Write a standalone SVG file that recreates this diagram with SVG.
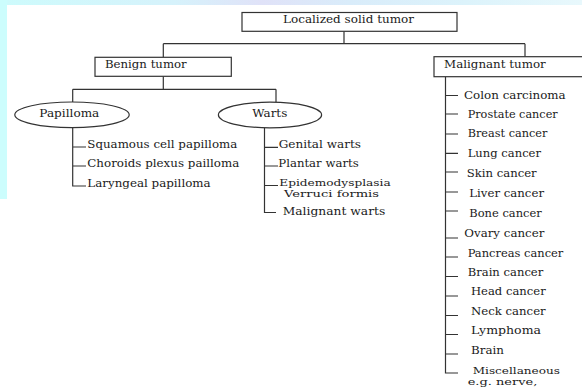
<svg xmlns="http://www.w3.org/2000/svg" width="582" height="387" viewBox="0 0 582 387">
  <defs>
    <linearGradient id="topg" x1="0" y1="0" x2="1" y2="0">
      <stop offset="0" stop-color="#cdfbfc"/>
      <stop offset="0.3" stop-color="#d6f2fb"/>
      <stop offset="0.45" stop-color="#e0e2f8"/>
      <stop offset="0.6" stop-color="#d9ecfa"/>
      <stop offset="0.8" stop-color="#dcf3fb"/>
      <stop offset="1" stop-color="#e8f8fc"/>
    </linearGradient>
    <style>
      .box { fill: #ffffff; stroke: #333333; stroke-width: 1.2; }
      .ell { fill: #ffffff; stroke: #333333; stroke-width: 1.2; }
      .ln { fill: none; stroke: #333333; stroke-width: 1.2; }
      .t { font-family: "DejaVu Serif", "Liberation Serif", serif; font-size: 10.5px; fill: #1a1a1a; }
      .s { font-size: 9.6px; }
    </style>
  </defs>

  <rect x="0" y="0" width="582" height="387" fill="#ffffff"/>
  <rect x="0" y="0" width="582" height="5" fill="url(#topg)"/>
  <rect x="0" y="0" width="7" height="199" fill="#ccfdfd"/>

  <g id="connectors">
    <path class="ln" d="M344 31.3 V43.7 M163.3 43.7 H525 M163.3 43.7 V57.3 M525 43.7 V56.7"/>
    <path class="ln" d="M163.3 76.3 V89.3 M72.7 89.3 H276 M72.7 89.3 V102 M276 89.3 V102.3"/>
    <path class="ln" d="M72.7 127.6 V186 H86 M72.7 147 H86 M72.7 166 H86"/>
    <path class="ln" d="M264.5 127.6 V212.5 H276 M264.5 147.3 H278 M264.5 166 H278 M264.5 185.5 H278"/>
    <path class="ln" d="M445.5 76.7 V373 H458 M445.5 95.5 H458 M445.5 114 H458 M445.5 134 H458 M445.5 153.3 H458 M445.5 172 H458 M445.5 192 H458 M445.5 211 H458 M445.5 238 H458 M445.5 257 H458 M445.5 276.5 H458 M445.5 296 H458 M445.5 315.5 H458 M445.5 334.5 H458 M445.5 354 H458"/>
  </g>

  <g id="localized">
    <rect class="box" x="242" y="12.5" width="215" height="18.8"/>
    <text class="t" x="283" y="23" textLength="131" lengthAdjust="spacingAndGlyphs">Localized solid tumor</text>
  </g>

  <g id="benign">
    <rect class="box" x="95" y="57.3" width="136.3" height="19"/>
    <text class="t" x="105" y="68.3" textLength="81.7" lengthAdjust="spacingAndGlyphs">Benign tumor</text>
  </g>

  <g id="malignant">
    <rect class="box" x="434" y="56.7" width="160" height="20"/>
    <text class="t" x="444" y="68.3" textLength="101.7" lengthAdjust="spacingAndGlyphs">Malignant tumor</text>
  </g>

  <g id="papilloma">
    <ellipse class="ell" cx="72" cy="114.8" rx="57.2" ry="12.8"/>
    <text class="t" x="39.3" y="116.7" textLength="60" lengthAdjust="spacingAndGlyphs">Papilloma</text>
  </g>

  <g id="warts">
    <ellipse class="ell" cx="270" cy="115" rx="51.6" ry="12.8"/>
    <text class="t" x="252.3" y="116.7" textLength="35" lengthAdjust="spacingAndGlyphs">Warts</text>
  </g>

  <g id="papilloma-items">
    <g id="squamous"><text class="t" x="87.3" y="147.7" textLength="150" lengthAdjust="spacingAndGlyphs">Squamous cell papilloma</text></g>
    <g id="choroids"><text class="t" x="87.3" y="167" textLength="152" lengthAdjust="spacingAndGlyphs">Choroids plexus pailloma</text></g>
    <g id="laryngeal"><text class="t" x="87.3" y="187" textLength="123.4" lengthAdjust="spacingAndGlyphs">Laryngeal papilloma</text></g>
  </g>

  <g id="warts-items">
    <g id="genital"><text class="t" x="278.7" y="148" textLength="82.3" lengthAdjust="spacingAndGlyphs">Genital warts</text></g>
    <g id="plantar"><text class="t" x="278.3" y="167" textLength="80.4" lengthAdjust="spacingAndGlyphs">Plantar warts</text></g>
    <g id="epidemo">
      <text class="t s" x="279.3" y="185.7" textLength="111.4" lengthAdjust="spacingAndGlyphs">Epidemodysplasia</text>
      <text class="t s" x="284" y="197.3" textLength="95" lengthAdjust="spacingAndGlyphs">Verruci formis</text>
    </g>
    <g id="malignant-warts"><text class="t" x="282.7" y="215" textLength="102.6" lengthAdjust="spacingAndGlyphs">Malignant warts</text></g>
  </g>

  <g id="malignant-items">
    <g id="colon"><text class="t" x="464" y="99.3" textLength="101.7" lengthAdjust="spacingAndGlyphs">Colon carcinoma</text></g>
    <g id="prostate"><text class="t" x="467.7" y="117.5" textLength="90" lengthAdjust="spacingAndGlyphs">Prostate cancer</text></g>
    <g id="breast"><text class="t" x="467.7" y="137.3" textLength="79.6" lengthAdjust="spacingAndGlyphs">Breast cancer</text></g>
    <g id="lung"><text class="t" x="467.7" y="156.7" textLength="73.3" lengthAdjust="spacingAndGlyphs">Lung cancer</text></g>
    <g id="skin"><text class="t" x="466.7" y="176.5" textLength="70" lengthAdjust="spacingAndGlyphs">Skin cancer</text></g>
    <g id="liver"><text class="t" x="469.3" y="196.5" textLength="74.7" lengthAdjust="spacingAndGlyphs">Liver cancer</text></g>
    <g id="bone"><text class="t" x="469.3" y="216.5" textLength="72.4" lengthAdjust="spacingAndGlyphs">Bone cancer</text></g>
    <g id="ovary"><text class="t" x="464.3" y="236.7" textLength="80" lengthAdjust="spacingAndGlyphs">Ovary cancer</text></g>
    <g id="pancreas"><text class="t" x="467.7" y="256.7" textLength="95.6" lengthAdjust="spacingAndGlyphs">Pancreas cancer</text></g>
    <g id="brain-cancer"><text class="t" x="467.7" y="276" textLength="75.6" lengthAdjust="spacingAndGlyphs">Brain cancer</text></g>
    <g id="head"><text class="t" x="471" y="295.3" textLength="74.7" lengthAdjust="spacingAndGlyphs">Head cancer</text></g>
    <g id="neck"><text class="t" x="471" y="315" textLength="74.7" lengthAdjust="spacingAndGlyphs">Neck cancer</text></g>
    <g id="lymphoma"><text class="t" x="471" y="334.3" textLength="70" lengthAdjust="spacingAndGlyphs">Lymphoma</text></g>
    <g id="brain"><text class="t" x="471" y="354" textLength="33" lengthAdjust="spacingAndGlyphs">Brain</text></g>
    <g id="misc">
      <text class="t s" x="472.7" y="373.8" textLength="87.3" lengthAdjust="spacingAndGlyphs">Miscellaneous</text>
      <text class="t s" x="467.7" y="385" textLength="69.6" lengthAdjust="spacingAndGlyphs">e.g. nerve,</text>
    </g>
  </g>
</svg>
